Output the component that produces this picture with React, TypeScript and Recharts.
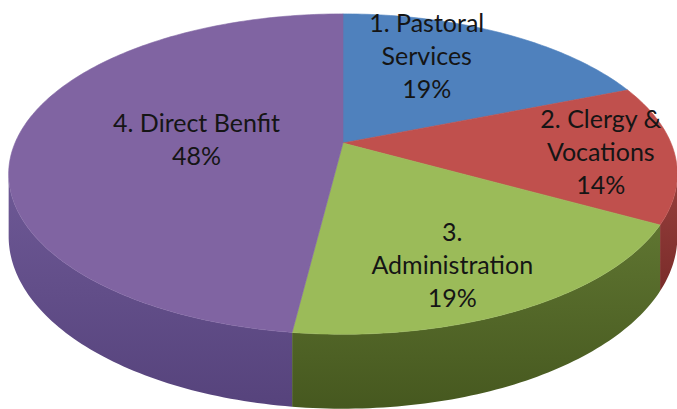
import React from 'react';
import { PieChart, Pie, Cell } from 'recharts';

// slice names (with Excel's line wrap) and their shares
const categories = ['1. Pastoral\nServices', '2. Clergy &\nVocations', '3.\nAdministration', '4. Direct Benfit'];
const shares = [19, 14, 19, 48];

const topColors = ['#4F81BD', '#C0504D', '#9BBB59', '#8064A2'];
const wallColors = [
  ['#3d6699', '#2f517c'],
  ['#973f3c', '#7a2c2a'],
  ['#5f7531', '#46581f'],
  ['#6e5996', '#56437c'],
];

// where Excel put each label inside its slice
const labelRadius = [0.7, 0.78, 0.74, 0.45];
const labelTurn = [10, 0, -4, 0];

const data = categories.map((name, i) => ({ name, value: shares[i] }));

const W = 677;
const H = 409;
const CX = 343;
const CY = 143;
const R = 328;
const TILT = 0.47;
const PERSP = 0.194;
const DEPTH = 60;
const LINE = 33;

// perspective projection of a point on the tilted disc
const proj = (cx: number, cy: number, rad: number, angle: number, drop = 0) => {
  const t = (angle * Math.PI) / 180;
  const u = (rad / R) * Math.cos(t);
  const v = -(rad / R) * Math.sin(t);
  const w = 1 - PERSP * v;
  return { x: cx + (R * u) / w, y: cy + (R * TILT * v + drop) / w, v };
};

const arcAngles = (start: number, end: number) => {
  const steps = Math.max(2, Math.ceil(Math.abs(end - start)));
  const out: number[] = [];
  for (let i = 0; i <= steps; i++) out.push(start + ((end - start) * i) / steps);
  return out;
};

const TopShape = (props: any) => {
  const { cx, cy, outerRadius, startAngle, endAngle, fill } = props;
  let d = `M${cx},${cy}`;
  arcAngles(startAngle, endAngle).forEach((a) => {
    const p = proj(cx, cy, outerRadius, a);
    d += `L${p.x.toFixed(2)},${p.y.toFixed(2)}`;
  });
  d += 'Z';
  return <path d={d} fill={fill} stroke={fill} strokeWidth={0.6} />;
};

const WallShape = (props: any) => {
  const { cx, cy, outerRadius, startAngle, endAngle, fill } = props;
  const top: { x: number; y: number }[] = [];
  const bottom: { x: number; y: number }[] = [];
  arcAngles(startAngle, endAngle).forEach((a) => {
    if (Math.sin((a * Math.PI) / 180) <= -PERSP + 0.01) {
      top.push(proj(cx, cy, outerRadius, a));
      bottom.push(proj(cx, cy, outerRadius, a, DEPTH));
    }
  });
  if (top.length < 2) return null;
  const pts = [...top, ...bottom.reverse()];
  const d = pts.map((p, i) => `${i ? 'L' : 'M'}${p.x.toFixed(2)},${p.y.toFixed(2)}`).join('') + 'Z';
  return <path d={d} fill={fill} stroke="none" />;
};

const renderLabel = (props: any) => {
  const { cx, cy, midAngle, percent } = props;
  const name = props.payload?.name ?? props.name;
  const i = Math.max(0, categories.indexOf(name));
  const p = proj(cx, cy, R * labelRadius[i], midAngle + labelTurn[i]);
  const lines = [...String(name).split('\n'), `${Math.round(percent * 100)}%`];
  const y0 = p.y - ((lines.length - 1) * LINE) / 2;
  return (
    <text
      x={p.x}
      y={y0}
      textAnchor="middle"
      dominantBaseline="central"
      fill="#151515"
      fontSize={25}
      fontFamily="Lato, 'Open Sans', sans-serif"
    >
      {lines.map((l, k) => (
        <tspan key={k} x={p.x} y={y0 + k * LINE}>
          {l}
        </tspan>
      ))}
    </text>
  );
};

export default function App() {
  return (
    <div style={{ position: 'absolute', left: 0, top: 0, width: W, height: H, background: '#fff' }}>
      <PieChart width={W} height={H} margin={{ top: 0, right: 0, bottom: 0, left: 0 }}>
        <defs>
          {wallColors.map((c, i) => (
            <linearGradient key={i} id={`wall${i}`} x1="0" y1="0" x2="0" y2="1">
              <stop offset="0%" stopColor={c[0]} />
              <stop offset="100%" stopColor={c[1]} />
            </linearGradient>
          ))}
        </defs>
        <Pie
          data={data}
          dataKey="value"
          nameKey="name"
          cx={CX}
          cy={CY}
          outerRadius={R}
          startAngle={90}
          endAngle={-270}
          stroke="none"
          isAnimationActive={false}
          shape={WallShape}
          activeShape={WallShape}
          inactiveShape={WallShape}
        >
          {data.map((_, i) => (
            <Cell key={i} fill={`url(#wall${i})`} />
          ))}
        </Pie>
        <Pie
          data={data}
          dataKey="value"
          nameKey="name"
          cx={CX}
          cy={CY}
          outerRadius={R}
          startAngle={90}
          endAngle={-270}
          stroke="none"
          isAnimationActive={false}
          shape={TopShape}
          activeShape={TopShape}
          inactiveShape={TopShape}
          label={renderLabel}
          labelLine={false}
        >
          {data.map((_, i) => (
            <Cell key={i} fill={topColors[i]} />
          ))}
        </Pie>
      </PieChart>
    </div>
  );
}
